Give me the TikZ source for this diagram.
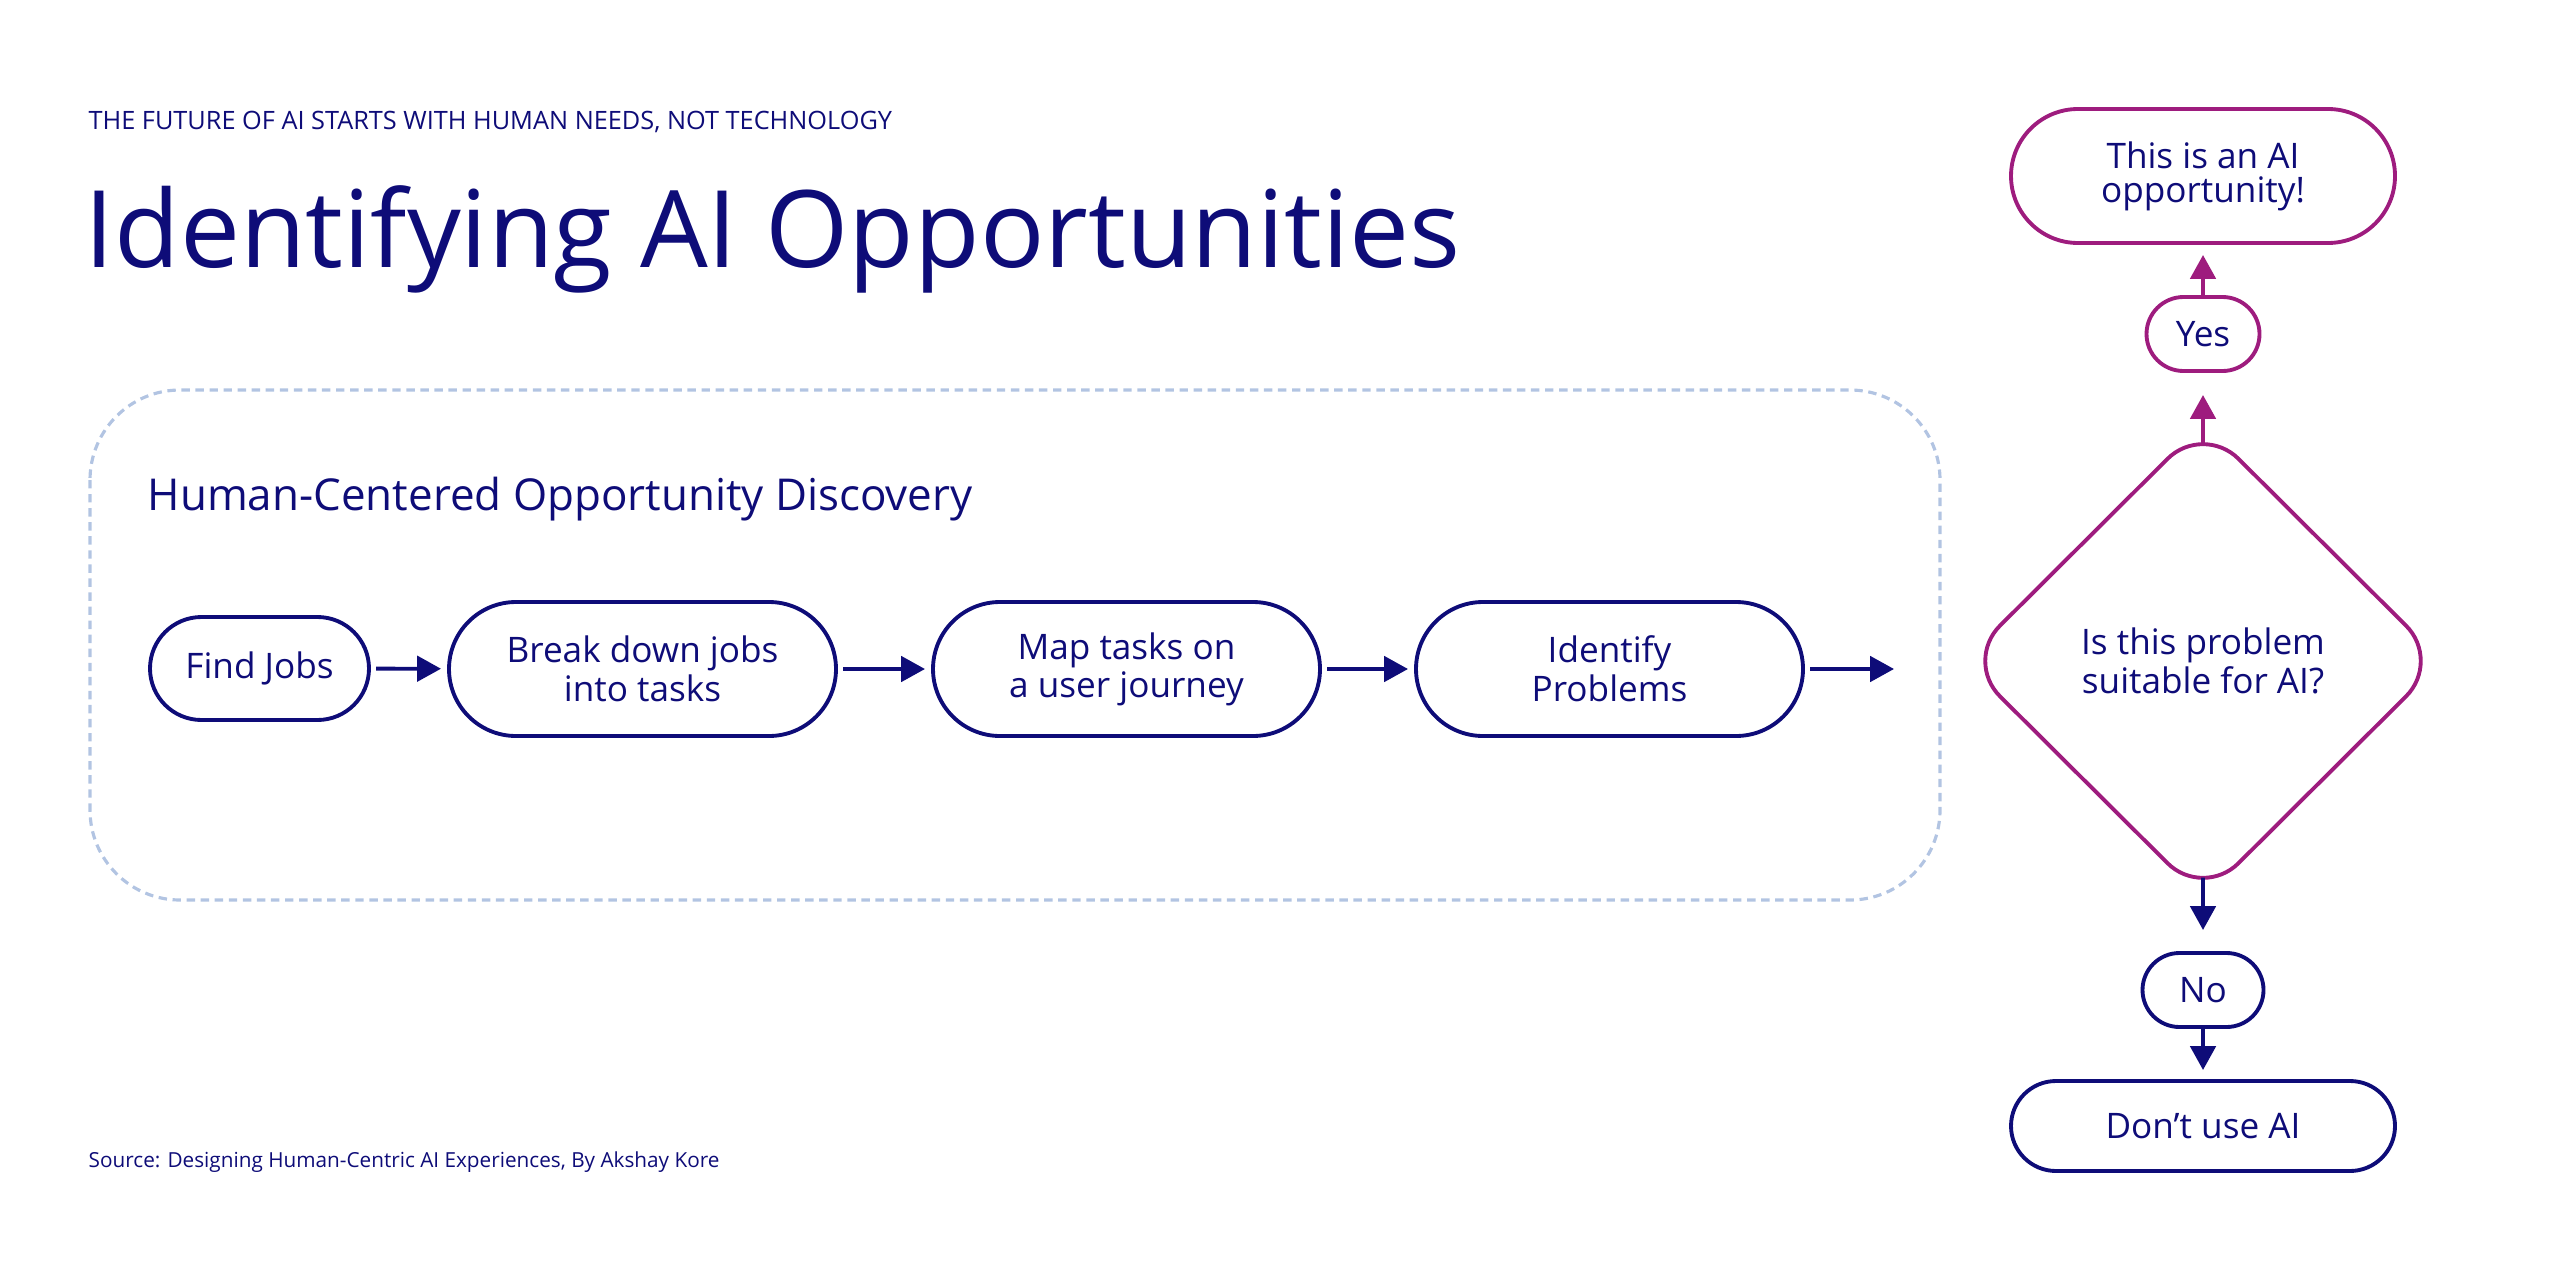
\documentclass[tikz,border=0pt]{standalone}
\usepackage{fontspec}
\setmainfont{Open Sans}
\usetikzlibrary{arrows.meta,shapes.geometric,shapes.misc}
\definecolor{inkblue}{RGB}{14,12,120}
\definecolor{plum}{RGB}{158,28,126}
\definecolor{framegray}{RGB}{178,196,226}
\tikzset{
	label/.style={anchor=base west, inner sep=0pt, text=inkblue},
	box/.style={rounded rectangle, draw=inkblue, line width=1.1pt, text=inkblue, align=center, inner sep=0pt, outer sep=0pt, font=\fontsize{10pt}{9.7pt}\selectfont},
	pinkbox/.style={box, draw=plum},
	flow/.style={-{Triangle[width=7.2pt,length=6.8pt]}, line width=1.1pt, color=inkblue},
	pinkflow/.style={flow, color=plum}
}

\begin{document}
\begin{tikzpicture}
			%%%%% START %%%%%
			\useasboundingbox (0, 0) rectangle (25.6, -12.76);
			
			\node[label, font=\fontsize{7.2pt}{8pt}\selectfont] (kicker) at (0.88, -1.29) {THE FUTURE OF AI STARTS WITH HUMAN NEEDS, NOT TECHNOLOGY};
			\node[label, font=\fontsize{30.45pt}{34pt}\selectfont] (title) at (0.84, -2.67) {Identifying AI Opportunities};
			
			\draw[framegray, line width=0.9pt, dash pattern=on 2.4pt off 1.6pt, rounded corners=0.9cm] (0.90, -3.90) rectangle (19.40, -9.00);
			\node[label, font=\fontsize{12.5pt}{14pt}\selectfont] (heading) at (1.47, -5.10) {Human-Centered Opportunity Discovery};
			
			\node[box, minimum width=2.19cm, minimum height=1.03cm] (find) at (2.595, -6.685) {Find Jobs};
			\node[box, minimum width=3.87cm, minimum height=1.34cm] (brk) at (6.425, -6.69) {Break down jobs\\into tasks};
			\node[box, minimum width=3.87cm, minimum height=1.34cm] (map) at (11.265, -6.69) {Map tasks on\\a user journey};
			\node[box, minimum width=3.87cm, minimum height=1.34cm] (prob) at (16.095, -6.69) {Identify\\Problems};
			\coordinate (out) at (18.94, -6.69);
			
			\draw[flow, shorten <=0.7mm, shorten >=0.8mm] (find) -- (brk);
			\draw[flow, shorten <=0.7mm, shorten >=0.8mm] (brk) -- (map);
			\draw[flow, shorten <=0.7mm, shorten >=0.8mm] (map) -- (prob);
			\draw[flow, shorten <=0.7mm] (prob) -- (out);
			
			\node[pinkbox, minimum width=3.84cm, minimum height=1.34cm] (opp) at (22.03, -1.76) {This is an AI\\opportunity!};
			\node[pinkbox, minimum width=1.13cm, minimum height=0.74cm] (yes) at (22.03, -3.34) {Yes};
			\node[diamond, draw=plum, line width=1.1pt, rounded corners=0.5cm, minimum width=4.77cm, minimum height=4.75cm, inner sep=0pt, outer sep=0pt, text=inkblue, align=center, font=\fontsize{10pt}{9.7pt}\selectfont] (q) at (22.03, -6.61) {Is this problem\\suitable for AI?};
			\node[box, minimum width=1.21cm, minimum height=0.74cm] (no) at (22.03, -9.90) {No};
			\node[box, minimum width=3.84cm, minimum height=0.90cm] (dont) at (22.03, -11.26) {Don’t use AI};
			
			\draw[pinkflow, shorten <=-2.1mm, shorten >=2.4mm] (q) -- (yes);
			\draw[pinkflow, shorten >=1.2mm] (yes) -- (opp);
			\draw[flow, shorten <=-2.1mm, shorten >=2.3mm] (q) -- (no);
			\draw[flow, shorten >=1.1mm] (no) -- (dont);
			
			\node[label, font=\fontsize{5.9pt}{7pt}\selectfont] (source) at (0.88, -11.67) {Source: Designing Human-Centric AI Experiences, By Akshay Kore};
			
			%%%%% END %%%%%
\end{tikzpicture}
\end{document}
